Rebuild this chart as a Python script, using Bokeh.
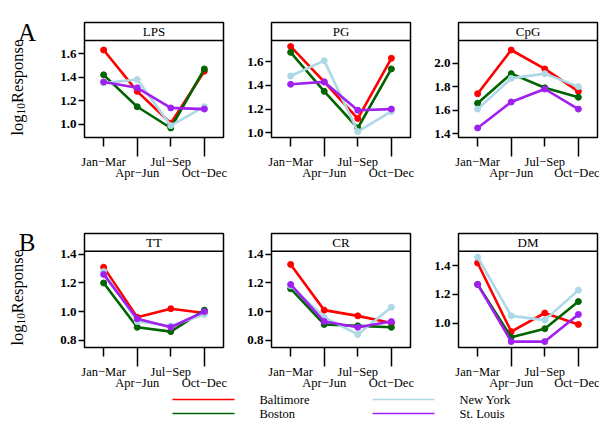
from math import pi
from bokeh.plotting import figure
from bokeh.layouts import column, row
from bokeh.models import (Range1d, FixedTicker, LinearAxis, PrintfTickFormatter, Span)
from bokeh.core.properties import value
from bokeh.embed import file_html
from bokeh.resources import INLINE

# ---------------- data ----------------
quarters = ["Jan−Mar", "Apr−Jun", "Jul−Sep", "Oct−Dec"]
quarter_pos = [1, 2, 3, 4]
cities = ["Baltimore", "Boston", "New York", "St. Louis"]
city_colors = ["#FF0000", "#006400", "#ADD8E6", "#A020F0"]

lps = {"Baltimore": [1.63, 1.28, 1.01, 1.45],
       "Boston":    [1.42, 1.15, 0.97, 1.47],
       "New York":  [1.35, 1.38, 0.99, 1.15],
       "St. Louis": [1.36, 1.31, 1.14, 1.13]}
pg = {"Baltimore": [1.73, 1.43, 1.12, 1.63],
      "Boston":    [1.68, 1.35, 1.04, 1.54],
      "New York":  [1.48, 1.61, 1.01, 1.18],
      "St. Louis": [1.41, 1.43, 1.19, 1.20]}
cpg = {"Baltimore": [1.74, 2.11, 1.95, 1.76],
       "Boston":    [1.66, 1.91, 1.79, 1.71],
       "New York":  [1.61, 1.87, 1.91, 1.80],
       "St. Louis": [1.45, 1.67, 1.78, 1.61]}
tt = {"Baltimore": [1.31, 0.96, 1.02, 0.99],
      "Boston":    [1.20, 0.89, 0.86, 1.01],
      "New York":  [1.28, 0.93, 0.90, 0.98],
      "St. Louis": [1.26, 0.95, 0.89, 1.00]}
cr = {"Baltimore": [1.33, 1.01, 0.97, 0.92],
      "Boston":    [1.16, 0.91, 0.90, 0.89],
      "New York":  [1.18, 0.96, 0.84, 1.03],
      "St. Louis": [1.19, 0.93, 0.89, 0.93]}
dm = {"Baltimore": [1.42, 0.94, 1.07, 0.99],
      "Boston":    [1.27, 0.90, 0.96, 1.15],
      "New York":  [1.46, 1.05, 1.02, 1.23],
      "St. Louis": [1.27, 0.87, 0.87, 1.06]}

ticks_lps = [1.0, 1.2, 1.4, 1.6]
ticks_pg = [1.0, 1.2, 1.4, 1.6]
ticks_cpg = [1.4, 1.6, 1.8, 2.0]
ticks_tt = [0.8, 1.0, 1.2, 1.4]
ticks_cr = [0.8, 1.0, 1.2, 1.4]
ticks_dm = [1.0, 1.2, 1.4]

# y-axis title "log10Response" with "10" as a subscript
y_label_parts = ["log", "10", "Response"]

# ---------------- style / layout ----------------
FONT = "Liberation Serif"
FRAME_W = 139
FRAME_H = 115
STRIP_H = 18
PAD = 0.07
BL = 40
LAB_W = 44


def row_span(panels):
    return max(max(max(v) for v in d.values()) - min(min(v) for v in d.values())
               for d in panels) * (1 + 2 * PAD)


def make_panel(title, data, ticks, span, border_right, border_top, border_bottom):
    lo_d = min(min(v) for v in data.values())
    hi_d = max(max(v) for v in data.values())
    mid = (lo_d + hi_d) / 2
    lo, hi = mid - span / 2, mid + span / 2
    strip = span * STRIP_H / (FRAME_H - STRIP_H)
    p = figure(width=BL + FRAME_W + border_right, height=border_top + FRAME_H + border_bottom,
               x_range=Range1d(0.43, 4.57), y_range=Range1d(lo, hi + strip),
               x_axis_type=None, y_axis_type=None, title=None,
               output_backend="svg", toolbar_location=None, sizing_mode="fixed",
               min_border_left=BL, min_border_right=border_right,
               min_border_top=border_top, min_border_bottom=border_bottom,
               background_fill_color="white", border_fill_color="white")
    p.outline_line_color = "black"
    p.outline_line_width = 1.5

    for city, col in zip(cities, city_colors):
        p.line(quarter_pos, data[city], line_color=col, line_width=2.6)
        p.scatter(quarter_pos, data[city], size=6, color=col)

    p.add_layout(Span(location=hi, dimension="width", line_color="black", line_width=1.5))
    p.text(x=[2.5], y=[hi + strip / 2], text=[title], text_font=value(FONT),
           text_font_size="13px", text_align="center", text_baseline="middle",
           text_color="black")

    yax = LinearAxis(ticker=FixedTicker(ticks=ticks, minor_ticks=[]),
                     formatter=PrintfTickFormatter(format="%.1f"),
                     axis_line_color=None, major_tick_out=6, major_tick_in=0,
                     minor_tick_out=0, minor_tick_in=0, major_tick_line_width=1.5,
                     major_tick_line_color="black", major_label_standoff=2,
                     major_label_text_font=FONT, major_label_text_font_style="bold",
                     major_label_text_font_size="13px", major_label_text_color="black")
    p.add_layout(yax, "left")

    xax1 = LinearAxis(ticker=FixedTicker(ticks=quarter_pos[0::2], minor_ticks=quarter_pos[1::2]),
                      major_label_overrides={quarter_pos[i]: quarters[i] for i in (0, 2)},
                      axis_line_color=None, major_tick_out=9, major_tick_in=0,
                      minor_tick_out=19, minor_tick_in=0,
                      major_tick_line_width=1.5, minor_tick_line_width=1.5,
                      major_tick_line_color="black", minor_tick_line_color="black",
                      major_label_standoff=-2, major_label_text_font=FONT,
                      major_label_text_font_size="12.5px", major_label_text_color="black")
    p.add_layout(xax1, "below")
    xax2 = LinearAxis(ticker=FixedTicker(ticks=quarter_pos[1::2], minor_ticks=[]),
                      major_label_overrides={quarter_pos[i]: quarters[i] for i in (1, 3)},
                      axis_line_color=None, major_tick_out=0, major_tick_in=0,
                      minor_tick_out=0, minor_tick_in=0, major_tick_line_color=None,
                      major_label_standoff=-6, major_label_text_font=FONT,
                      major_label_text_font_size="12.5px", major_label_text_color="black")
    p.add_layout(xax2, "below")
    return p


def make_label_fig(letter, border_top, border_bottom, letter_up):
    """Row letter and rotated y title; y in px above the (row-aligned) frame bottom."""
    p = figure(width=LAB_W, height=border_top + FRAME_H + border_bottom,
               x_range=Range1d(0, LAB_W), y_range=Range1d(0, FRAME_H),
               x_axis_type=None, y_axis_type=None, title=None, sizing_mode="fixed",
               output_backend="svg", toolbar_location=None,
               min_border_left=0, min_border_right=0,
               min_border_top=border_top, min_border_bottom=border_bottom,
               background_fill_color="white", border_fill_color="white")
    p.outline_line_color = None
    p.text(x=[26.5], y=[letter_up], text=[letter], text_font=value(FONT),
           text_font_size="25px", text_align="center", text_baseline="middle",
           text_color="black")
    sizes = [16.5, 11.5, 16.5]
    widths_em = [1.278, 1.0, 3.833]
    xs = [17.1, 20.0, 17.1]
    pos = 2.0
    for part, fs, wem, xx in zip(y_label_parts, sizes, widths_em, xs):
        p.text(x=[xx], y=[pos], text=[part], text_font=value(FONT),
               text_font_size=f"{fs}px", text_align="left", text_baseline="middle",
               angle=pi / 2, text_color="black")
        pos += wem * fs
    return p


span_a = row_span([lps, pg, cpg])
span_b = row_span([tt, cr, dm])

A_TOP, A_BOT = 22, 62
B_TOP, B_BOT = 34, 44

pa1 = make_panel("LPS", lps, ticks_lps, span_a, 8, A_TOP, A_BOT)
pa2 = make_panel("PG", pg, ticks_pg, span_a, 8, A_TOP, A_BOT)
pa3 = make_panel("CpG", cpg, ticks_cpg, span_a, 2, A_TOP, A_BOT)
pb1 = make_panel("TT", tt, ticks_tt, span_b, 8, B_TOP, B_BOT)
pb2 = make_panel("CR", cr, ticks_cr, span_b, 8, B_TOP, B_BOT)
pb3 = make_panel("DM", dm, ticks_dm, span_b, 2, B_TOP, B_BOT)

lab_a = make_label_fig("A", A_TOP, A_BOT, FRAME_H - 9.5)
lab_b = make_label_fig("B", B_TOP, B_BOT, FRAME_H - 9.5)

# legend figure (two columns of two entries)
LEG_W, LEG_H = 599, 28
leg = figure(width=LEG_W, height=LEG_H, x_range=Range1d(0, LEG_W), y_range=Range1d(0, LEG_H),
             x_axis_type=None, y_axis_type=None, title=None, sizing_mode="fixed",
             output_backend="svg", toolbar_location=None, min_border=0,
             background_fill_color="white", border_fill_color="white")
leg.outline_line_color = None
col_x = [172, 172, 372, 372]
row_y = [LEG_H - 7, LEG_H - 21, LEG_H - 7, LEG_H - 21]
leg.segment(x0=col_x, y0=row_y, x1=[c + 62 for c in col_x], y1=row_y,
            line_color=city_colors, line_width=1.5)
leg.text(x=[c + 87 for c in col_x], y=row_y, text=cities, text_font=value(FONT),
         text_font_size="12.5px", text_align="left", text_baseline="middle",
         text_color="black")

layout = column(row(lab_a, pa1, pa2, pa3), row(lab_b, pb1, pb2, pb3), leg)

open("out.html", "w").write(file_html(layout, INLINE))
